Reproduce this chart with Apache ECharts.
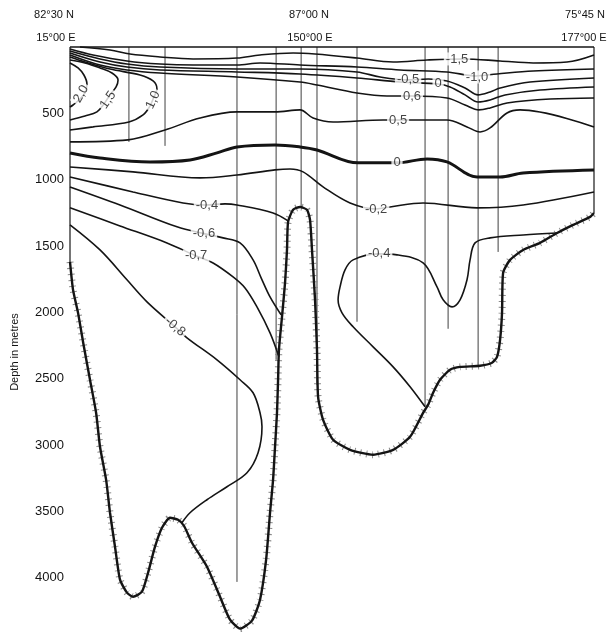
<!DOCTYPE html>
<html>
<head>
<meta charset="utf-8">
<script src="https://cdn.jsdelivr.net/npm/echarts@6/dist/echarts.min.js"></script>
<style>
html,body{margin:0;padding:0;background:#fff;}
#chart{width:608px;height:634px;}
</style>
</head>
<body>
<div id="chart"></div>
<script>
// ---- axis / tick data ----
const depthTicks = [500, 1000, 1500, 2000, 2500, 3000, 3500, 4000];
const sectionLat = ['82°30 N', '87°00 N', '75°45 N'];
const sectionLon = ['15°00 E', '150°00 E', '177°00 E'];

// ---- stations: distance along section (km) and depth where the station line stops (m) ----
const stationKm     = [0,    271, 437, 768,  948,  1063, 1136, 1320, 1633, 1739, 1877, 1969, 2410];
const stationBottom = [1619, 715, 745, 4030, 2357, 1205, 2545, 2070, 2711, 2123, 2395, 1544, 1250];

// ---- sea bottom [km, m] ----
const bottom = [[0,1619],[14,1830],[37,2003],[64,2259],[92,2507],[120,2756],[138,3012],[166,3260],[184,3509],[207,3765],[230,4013],[262,4111],[290,4142],[331,4104],[359,3961],[391,3765],[423,3622],[460,3547],[497,3562],[524,3607],[561,3735],[630,3916],[690,4142],[736,4315],[782,4382],[837,4322],[874,4164],[902,3863],[920,3509],[934,3260],[943,3012],[952,2756],[957,2507],[961,2282],[975,2033],[989,1777],[998,1529],[1003,1318],[1026,1227],[1058,1205],[1090,1227],[1104,1303],[1113,1529],[1127,1905],[1136,2282],[1141,2636],[1164,2809],[1210,2959],[1288,3035],[1394,3072],[1486,3035],[1564,2937],[1624,2756],[1647,2696],[1670,2605],[1702,2507],[1748,2432],[1794,2410],[1886,2402],[1941,2379],[1964,2334],[1978,2206],[1987,2003],[1992,1702],[2024,1604],[2084,1529],[2162,1476],[2240,1401],[2314,1340],[2392,1280],[2410,1250]];

// ---- isotherms [km, m] ----
const isoM15 = [[46,0],[184,23],[276,53],[414,75],[566,90],[768,83],[874,60],[1026,45],[1127,53],[1320,83],[1486,113],[1642,98],[1808,90],[1978,105],[2130,120],[2286,113],[2410,60]];
const isoM10 = [[0,15],[106,60],[262,105],[414,128],[566,136],[768,136],[874,120],[1058,136],[1320,151],[1518,173],[1734,188],[1868,218],[1964,203],[2130,181],[2410,166]];
const isoM05 = [[0,30],[138,90],[262,128],[414,151],[768,166],[1058,166],[1320,188],[1426,226],[1555,248],[1647,241],[1734,256],[1817,309],[1877,361],[1932,339],[1978,309],[2116,264],[2410,233]];
const isoZeroUp = [[0,45],[138,113],[262,151],[414,173],[768,188],[1058,203],[1320,233],[1518,264],[1693,279],[1748,301],[1817,361],[1877,414],[1932,399],[2001,361],[2162,324],[2410,301]];
const isoP06 = [[0,60],[138,136],[262,173],[414,196],[768,226],[1058,264],[1136,286],[1320,346],[1458,369],[1573,369],[1734,384],[1817,437],[1881,474],[1932,459],[2010,422],[2208,392],[2410,384]];
const isoP10 = [[0,625],[106,602],[271,565],[336,512],[368,444],[386,376],[400,316],[382,256],[322,211],[184,166],[69,113],[0,75]];
const isoP15 = [[0,550],[69,520],[124,489],[156,429],[184,361],[212,301],[221,248],[193,196],[138,158],[69,120],[0,98]];
const isoP20 = [[0,120],[37,158],[64,211],[78,279],[69,346],[41,399],[14,437],[0,452]];
const isoP05 = [[0,715],[267,700],[437,625],[598,535],[768,489],[943,489],[1058,474],[1118,535],[1210,565],[1440,550],[1734,550],[1826,602],[1886,640],[1932,610],[2010,497],[2070,474],[2410,602]];
const isoZero = [[0,798],[138,836],[368,866],[552,851],[676,798],[768,753],[943,738],[1058,753],[1136,776],[1325,873],[1504,873],[1642,843],[1734,866],[1872,979],[1978,979],[2084,949],[2410,926]];
const isoM02 = [[0,904],[290,941],[598,986],[768,964],[943,926],[1012,919],[1072,941],[1164,1054],[1288,1175],[1408,1220],[1472,1205],[1624,1175],[1872,1212],[2084,1190],[2410,1092]];
const isoM04W = [[0,979],[290,1092],[520,1175],[621,1190],[713,1182],[768,1190],[934,1250],[1003,1310]];
const isoM06 = [[0,1054],[230,1190],[492,1355],[621,1408],[704,1438],[782,1476],[842,1604],[879,1739],[920,1883],[971,2018]];
const isoM07 = [[0,1212],[230,1348],[446,1476],[580,1574],[658,1627],[750,1732],[805,1815],[860,1958],[920,2154],[961,2334]];
const isoM08 = [[0,1340],[138,1529],[262,1754],[354,1920],[483,2108],[538,2191],[676,2357],[782,2507],[842,2605],[874,2756],[883,2861],[865,3057],[814,3208],[722,3313],[630,3411],[552,3509],[515,3584]];
const isoM04E = [[1633,2711],[1564,2560],[1486,2410],[1394,2259],[1302,2108],[1251,2003],[1233,1905],[1242,1807],[1265,1679],[1302,1604],[1417,1559],[1504,1566],[1624,1627],[1688,1807],[1716,1905],[1757,1958],[1794,1905],[1826,1754],[1840,1604],[1863,1476],[1932,1438],[2084,1416],[2240,1401]];

// ---- isotherm labels ----
const labelText  = ['-1,5', '-1,0', '-0,5', '0',  '0,6', '0,5', '0',  '-0,2', '-0,4', '-0,6', '-0,7', '-0,8', '-0,4', '2,0', '1,5', '1,0'];
const labelKm    = [1780,   1872,   1555,   1693, 1573,  1509,  1504, 1408,   630,    616,    580,    483,    1422,   51,    175,   382];
const labelDepth = [90,     226,    248,    271,  369,   550,   873,  1227,   1190,   1401,   1574,   2108,   1559,   354,   399,   399];
const labelAngle = [0,      0,      0,      0,    0,     0,     0,    0,      0,      0,      0,      -40,    0,      60,    55,    65];

const chart = echarts.init(document.getElementById('chart'), null, {renderer: 'canvas'});

const ink = '#141414';
const contours = [isoM15, isoM10, isoM05, isoZeroUp, isoP06, isoP10, isoP15, isoP20, isoP05, isoM02, isoM04W, isoM06, isoM07, isoM08, isoM04E];

const series = [];
// station lines and frame sides
stationKm.forEach((km, i) => {
  series.push({type: 'line', data: [[km, 0], [km, stationBottom[i]]], symbol: 'none', clip: false, silent: true,
    lineStyle: {color: '#2a2a2a', width: (i === 0 || i === stationKm.length - 1) ? 1.3 : 0.9}, z: 1});
});
// top frame
series.push({type: 'line', data: [[stationKm[0], 0], [stationKm[stationKm.length - 1], 0]], symbol: 'none', clip: false, silent: true,
  lineStyle: {color: ink, width: 1.6}, z: 1});
// isotherms
contours.forEach(d => {
  series.push({type: 'line', data: d, smooth: 0.35, symbol: 'none', clip: false, silent: true,
    lineStyle: {color: ink, width: 1.6}, z: 3});
});
series.push({type: 'line', data: isoZero, smooth: 0.35, symbol: 'none', clip: false, silent: true,
  lineStyle: {color: ink, width: 3}, z: 3});
// sea bottom: hachure fringe + outline
series.push({type: 'line', data: bottom, smooth: 0.2, symbol: 'none', clip: false, silent: true,
  lineStyle: {color: '#8a8a8a', width: 7, type: [1, 5]}, z: 2});
series.push({type: 'line', data: bottom, smooth: 0.2, symbol: 'none', clip: false, silent: true,
  lineStyle: {color: ink, width: 2.4}, z: 4});
// labels
series.push({
  type: 'scatter', symbolSize: 2, itemStyle: {color: 'rgba(0,0,0,0)'}, silent: true, z: 10,
  data: labelText.map((t, i) => ({name: t, value: [labelKm[i], labelDepth[i]], label: {rotate: labelAngle[i]}})),
  label: {show: true, position: 'inside', formatter: p => p.name, color: ink,
    fontFamily: 'Liberation Sans', fontSize: 13, backgroundColor: '#fff', padding: [0, 2]},
  labelLayout: {hideOverlap: false}
});

const topFont = '11px "Liberation Sans"';
const option = {
  animation: false,
  backgroundColor: '#fff',
  grid: {left: 70, top: 47, width: 524, height: 584, containLabel: false},
  xAxis: {type: 'value', min: 0, max: 2410, show: false},
  yAxis: {
    type: 'value', inverse: true, min: 0, max: 4400, interval: 100,
    axisLine: {show: false}, axisTick: {show: false}, splitLine: {show: false},
    axisLabel: {
      show: true, margin: 6, color: ink, fontFamily: 'Liberation Sans', fontSize: 13,
      formatter: v => depthTicks.indexOf(v) >= 0 ? String(v) : ''
    }
  },
  graphic: [
    {type: 'text', x: 54, y: 15, style: {text: sectionLat[0], font: topFont, fill: ink, textAlign: 'center', textVerticalAlign: 'middle'}},
    {type: 'text', x: 56, y: 38, style: {text: sectionLon[0], font: topFont, fill: ink, textAlign: 'center', textVerticalAlign: 'middle'}},
    {type: 'text', x: 309, y: 15, style: {text: sectionLat[1], font: topFont, fill: ink, textAlign: 'center', textVerticalAlign: 'middle'}},
    {type: 'text', x: 310, y: 38, style: {text: sectionLon[1], font: topFont, fill: ink, textAlign: 'center', textVerticalAlign: 'middle'}},
    {type: 'text', x: 585, y: 15, style: {text: sectionLat[2], font: topFont, fill: ink, textAlign: 'center', textVerticalAlign: 'middle'}},
    {type: 'text', x: 584, y: 38, style: {text: sectionLon[2], font: topFont, fill: ink, textAlign: 'center', textVerticalAlign: 'middle'}},
    {type: 'text', x: 15, y: 352, rotation: Math.PI / 2,
      style: {text: 'Depth in metres', font: '11px "Liberation Sans"', fill: ink, textAlign: 'center', textVerticalAlign: 'middle'}}
  ],
  series: series
};
chart.setOption(option);
</script>
</body>
</html>
